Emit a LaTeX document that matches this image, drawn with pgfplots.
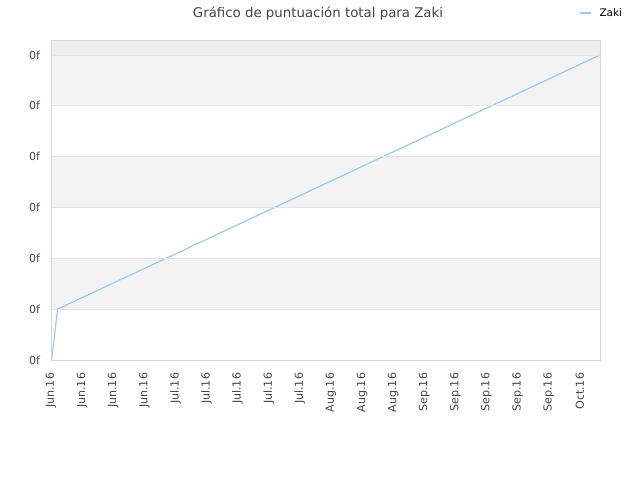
\documentclass[border=0pt]{standalone}
\usepackage{pgfplots}
\pgfplotsset{compat=1.18}
\usepackage{fontspec}
\setmainfont{DejaVu Sans}
\definecolor{lineblue}{HTML}{9CC9F4}
\definecolor{bandgray}{HTML}{F3F3F3}
\definecolor{topgray}{HTML}{EEEEEE}
\definecolor{gridgray}{HTML}{E3E3E3}
\definecolor{framegray}{HTML}{D8D8D8}
\definecolor{txtgray}{HTML}{444444}
\begin{document}
\begin{tikzpicture}
  \path[use as bounding box] (0,0) rectangle (480pt,360pt);
  \node[text=txtgray, font=\fontsize{10}{12}\selectfont] at (238.5pt,350pt) {Gráfico de puntuación total para Zaki};
  \draw[lineblue, line width=0.9pt] (435pt,350.3pt) -- (443pt,350.3pt);
  \node[anchor=west, font=\fontsize{7.8}{9}\selectfont, inner sep=0pt] at (449.5pt,350.3pt) {Zaki};
  \begin{axis}[
      at={(38.25pt,90pt)},
      anchor=south west,
      scale only axis,
      width=411.75pt,
      height=240pt,
      xmin=0, xmax=17.65,
      ymin=0, ymax=6.295,
      axis on top,
      axis line style={framegray},
      major tick length=0pt,
      ytick={0,...,6},
      yticklabel={0f},
      ymajorgrids,
      grid style={gridgray, line width=0.6pt},
      xtick={0,...,17},
      xticklabels={Jun.16,Jun.16,Jun.16,Jun.16,Jul.16,Jul.16,Jul.16,Jul.16,Jul.16,Aug.16,Aug.16,Aug.16,Sep.16,Sep.16,Sep.16,Sep.16,Sep.16,Oct.16},
      xticklabel style={rotate=90, anchor=east, font=\fontsize{8.3}{9}\selectfont, text=txtgray, inner sep=1pt, xshift=-1pt},
      yticklabel style={font=\fontsize{8.3}{9}\selectfont, text=txtgray, inner sep=1pt},
      xticklabel shift=7.5pt,
      yticklabel shift=7pt,
      xtick pos=bottom, ytick pos=left,
    ]
    \addplot[draw=none, fill=bandgray] coordinates {(0,1) (17.65,1) (17.65,2) (0,2)} \closedcycle;
    \addplot[draw=none, fill=bandgray] coordinates {(0,3) (17.65,3) (17.65,4) (0,4)} \closedcycle;
    \addplot[draw=none, fill=bandgray] coordinates {(0,5) (17.65,5) (17.65,6) (0,6)} \closedcycle;
    \addplot[draw=none, fill=topgray] coordinates {(0,6) (17.65,6) (17.65,6.295) (0,6.295)} \closedcycle;
    \addplot[lineblue, line width=0.9pt, mark=none] coordinates {
      (0.02,0) (0.21,1) (17.65,6)
    };
  \end{axis}
\end{tikzpicture}
\end{document}
